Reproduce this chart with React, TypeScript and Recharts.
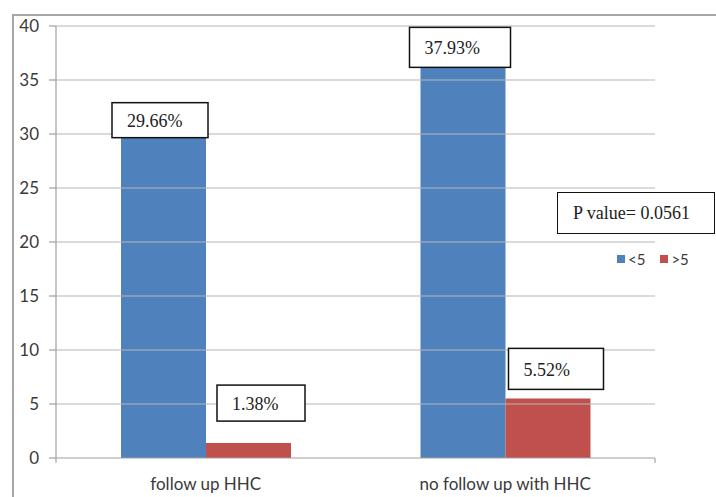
import React from 'react';
import { BarChart, Bar, XAxis, YAxis, ReferenceLine, LabelList } from 'recharts';

const categories = ['follow up HHC', 'no follow up with HHC'];
const under5 = [29.66, 37.93];
const over5 = [1.38, 5.52];
const yTicks = [0, 5, 10, 15, 20, 25, 30, 35, 40];
const categoryEdges = [0, 1, 2];
const seriesNames = ['<5', '>5'];
const pValue = '0.0561';

const BLUE = '#4F81BD';
const RED = '#C0504D';
const GRID = '#b5b5b5';
const AXIS = '#a0a0a0';
const AXIS_FONT = 'Lato, "Open Sans", sans-serif';
const SERIF = '"Liberation Serif", "DejaVu Serif", serif';

const data = categories.map((name, i) => ({ name, under5: under5[i], over5: over5[i] }));

// callout boxes were placed by hand in the original, so offsets differ per bar
// dx: from bar left edge, bottom: box bottom relative to bar top
const boxOffsets: Record<string, { dx: number; bottom: number; w: number; h: number }[]> = {
  under5: [
    { dx: -9, bottom: 0, w: 96, h: 35 },
    { dx: -11, bottom: 19, w: 101, h: 40 },
  ],
  over5: [
    { dx: 11, bottom: -22, w: 88, h: 36 },
    { dx: 3, bottom: -9, w: 95, h: 41 },
  ],
};

const boxLabel = (key: string) => (props: any) => {
  const { x, y, index, value } = props;
  const o = boxOffsets[key][index];
  const bx = Number(x) + o.dx;
  const by = Number(y) + o.bottom - o.h;
  return (
    <g>
      <rect x={bx} y={by} width={o.w} height={o.h} fill="#fff" stroke="#111" strokeWidth={1.5} />
      <text x={bx + 15} y={by + o.h / 2 + 1} dominantBaseline="central" fontFamily={SERIF} fontSize={18} fill="#222">
        {Number(value).toFixed(2)}%
      </text>
    </g>
  );
};

export default function App() {
  return (
    <div style={{ position: 'absolute', left: 0, top: 0, width: 716, height: 497, background: '#fff' }}>
      {/* frame of the original chart area */}
      <div
        style={{
          position: 'absolute',
          left: 12,
          top: 14,
          width: 716 - 12,
          height: 497 - 14,
          borderLeft: '2px solid #a6a6a6',
          borderTop: '2px solid #a6a6a6',
          boxSizing: 'border-box',
        }}
      />
      <BarChart
        width={716}
        height={497}
        data={data}
        margin={{ top: 26, right: 61, bottom: 0, left: 0 }}
        barGap={0}
        barSize={85}
        style={{ position: 'absolute', left: 0, top: 0 }}
      >
        <XAxis
          dataKey="name"
          height={39}
          tickSize={0}
          tickMargin={20}
          axisLine={{ stroke: AXIS, strokeWidth: 1.2 }}
          tick={{ fill: '#3a3a3a', fontSize: 17, fontFamily: AXIS_FONT }}
        />
        {/* hidden numeric axis, only used to place tick marks between categories */}
        <XAxis xAxisId="edges" type="number" domain={[0, 2]} hide />
        <YAxis
          width={56}
          domain={[0, 40]}
          ticks={yTicks}
          interval={0}
          tickSize={7}
          tickMargin={10}
          axisLine={{ stroke: AXIS, strokeWidth: 1.2 }}
          tickLine={{ stroke: AXIS, strokeWidth: 1.2 }}
          tick={{ fill: '#3a3a3a', fontSize: 17, fontFamily: AXIS_FONT }}
        />
        {yTicks
          .filter((t) => t > 0)
          .map((t) => (
            <ReferenceLine key={t} y={t} stroke={GRID} strokeWidth={1.2} />
          ))}
        {categoryEdges.map((e) => (
          <ReferenceLine
            key={'e' + e}
            xAxisId="edges"
            segment={[{ x: e, y: 0 }, { x: e, y: -0.45 }]}
            stroke={AXIS}
            strokeWidth={1.2}
            ifOverflow="visible"
          />
        ))}
        <Bar dataKey="under5" name={seriesNames[0]} fill={BLUE} isAnimationActive={false}>
          <LabelList dataKey="under5" content={boxLabel('under5')} />
        </Bar>
        <Bar dataKey="over5" name={seriesNames[1]} fill={RED} isAnimationActive={false}>
          <LabelList dataKey="over5" content={boxLabel('over5')} />
        </Bar>
      </BarChart>
      {/* P value callout */}
      <div
        style={{
          position: 'absolute',
          left: 557,
          top: 192,
          width: 158,
          height: 42,
          border: '1.5px solid #111',
          boxSizing: 'border-box',
          background: '#fff',
          display: 'flex',
          alignItems: 'center',
          paddingLeft: 15,
          fontFamily: SERIF,
          fontSize: 18,
          color: '#222',
          whiteSpace: 'nowrap',
        }}
      >
        P value= {pValue}
      </div>
      {/* legend */}
      <div
        style={{
          position: 'absolute',
          left: 617,
          top: 250,
          display: 'flex',
          alignItems: 'center',
          fontFamily: AXIS_FONT,
          fontSize: 15,
          color: '#3a3a3a',
        }}
      >
        {[BLUE, RED].map((c, i) => (
          <span key={c} style={{ display: 'flex', alignItems: 'center', marginRight: i === 0 ? 15 : 0 }}>
            <span style={{ width: 8, height: 8, background: c, marginRight: 3, display: 'inline-block' }} />
            {seriesNames[i]}
          </span>
        ))}
      </div>
    </div>
  );
}
